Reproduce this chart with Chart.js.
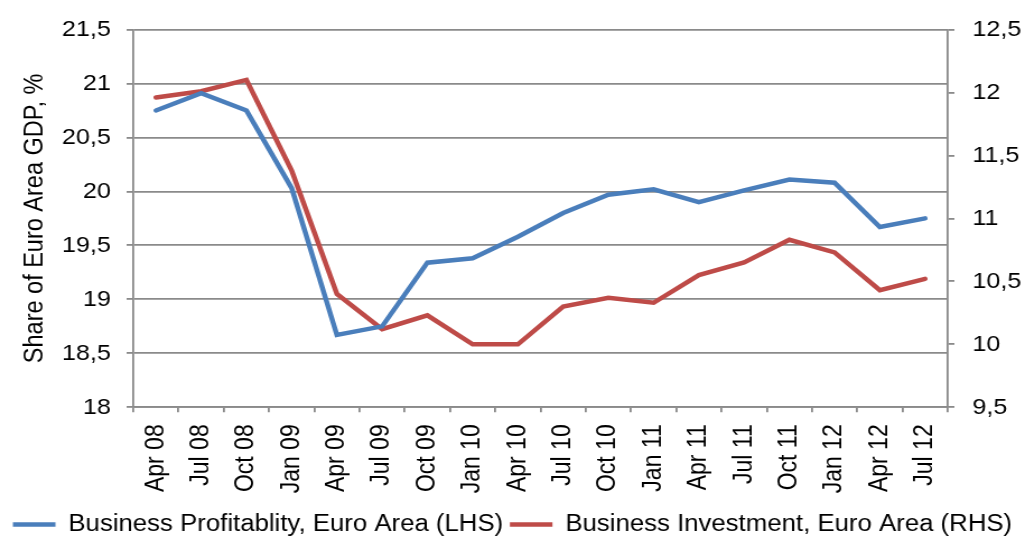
<!DOCTYPE html>
<html lang="en">
<head>
  <meta charset="UTF-8">
  <title>Business profitability and investment, Euro Area</title>
  <script src="https://cdn.jsdelivr.net/npm/chart.js"></script>
  <style>
    html, body { margin: 0; padding: 0; background: #fff; overflow: hidden; }
    /* the reference is a bit wider than tall, so draw narrow and stretch */
    #wrap { width: 915px; height: 537px; transform: scaleX(1.1202); transform-origin: 0 0; }
  </style>
</head>
<body>
  <div id="wrap"><canvas id="chart" width="915" height="537"></canvas></div>

  <script>
    const quarters = ['Apr 08', 'Jul 08', 'Oct 08', 'Jan 09', 'Apr 09', 'Jul 09', 'Oct 09', 'Jan 10', 'Apr 10',
      'Jul 10', 'Oct 10', 'Jan 11', 'Apr 11', 'Jul 11', 'Oct 11', 'Jan 12', 'Apr 12', 'Jul 12'];
    // LHS
    const profitability = [20.75, 20.91, 20.75, 20.03, 18.67, 18.75, 19.34, 19.38, 19.58,
      19.80, 19.97, 20.02, 19.90, 20.01, 20.11, 20.08, 19.67, 19.75];
    // RHS
    const investment = [11.96, 12.01, 12.10, 11.38, 10.40, 10.12, 10.23, 10.00, 10.00,
      10.30, 10.37, 10.33, 10.55, 10.65, 10.83, 10.73, 10.43, 10.52];
    const leftTicks = { min: 18, max: 21.5, step: 0.5 };
    const rightTicks = { min: 9.5, max: 12.5, step: 0.5 };

    const font = 'Liberation Sans, Arial, sans-serif';
    const grey = '#8a8a8a';
    const comma = v => String(v).replace('.', ',');

    new Chart(document.getElementById('chart'), {
      type: 'line',
      data: {
        labels: quarters,
        datasets: [{
          label: 'Business Profitablity, Euro Area (LHS)',
          data: profitability,
          yAxisID: 'y',
          borderColor: '#4a7ebb',
          backgroundColor: '#4a7ebb',
          borderWidth: 4.5,
          borderCapStyle: 'round',
          pointRadius: 0,
          tension: 0
        }, {
          label: 'Business Investment, Euro Area (RHS)',
          data: investment,
          yAxisID: 'y1',
          borderColor: '#be4b48',
          backgroundColor: '#be4b48',
          borderWidth: 4.5,
          borderCapStyle: 'round',
          pointRadius: 0,
          tension: 0
        }]
      },
      options: {
        responsive: false,
        animation: false,
        layout: { padding: { top: 23, left: 0, right: 0, bottom: -9 } },
        plugins: {
          tooltip: { enabled: false },
          legend: {
            position: 'bottom',
            labels: {
              usePointStyle: true,
              pointStyle: 'line',
              pointStyleWidth: 38,
              padding: 6,
              color: '#000',
              font: { family: font, size: 23 }
            }
          }
        },
        scales: {
          x: {
            offset: true,
            grid: { offset: true, drawOnChartArea: false, color: grey, lineWidth: 1.8, tickLength: 5 },
            border: { color: grey, width: 1.8 },
            ticks: {
              autoSkip: false, minRotation: 90, maxRotation: 90, padding: 12,
              color: '#000', font: { family: font, size: 23 }
            },
            afterFit: s => { s.height = 99.7; }
          },
          y: {
            position: 'left',
            min: leftTicks.min,
            max: leftTicks.max,
            grid: { color: grey, lineWidth: 1.8, tickLength: 6 },
            border: { color: grey, width: 1.8 },
            ticks: {
              stepSize: leftTicks.step, padding: 14, color: '#000',
              font: { family: font, size: 22.5 }, callback: comma
            },
            title: {
              display: true, text: 'Share of Euro Area GDP, %', color: '#000',
              font: { family: font, size: 23.5 }, padding: { top: 17, bottom: 0 }
            },
            afterFit: s => { s.width = 119; }
          },
          y1: {
            position: 'right',
            min: rightTicks.min,
            max: rightTicks.max,
            grid: { drawOnChartArea: false, color: grey, lineWidth: 1.8, tickLength: 6 },
            border: { color: grey, width: 1.8 },
            ticks: {
              stepSize: rightTicks.step, padding: 16, color: '#000',
              font: { family: font, size: 22.5 }, callback: comma
            },
            afterFit: s => { s.width = 69; }
          }
        }
      }
    });
  </script>
</body>
</html>
